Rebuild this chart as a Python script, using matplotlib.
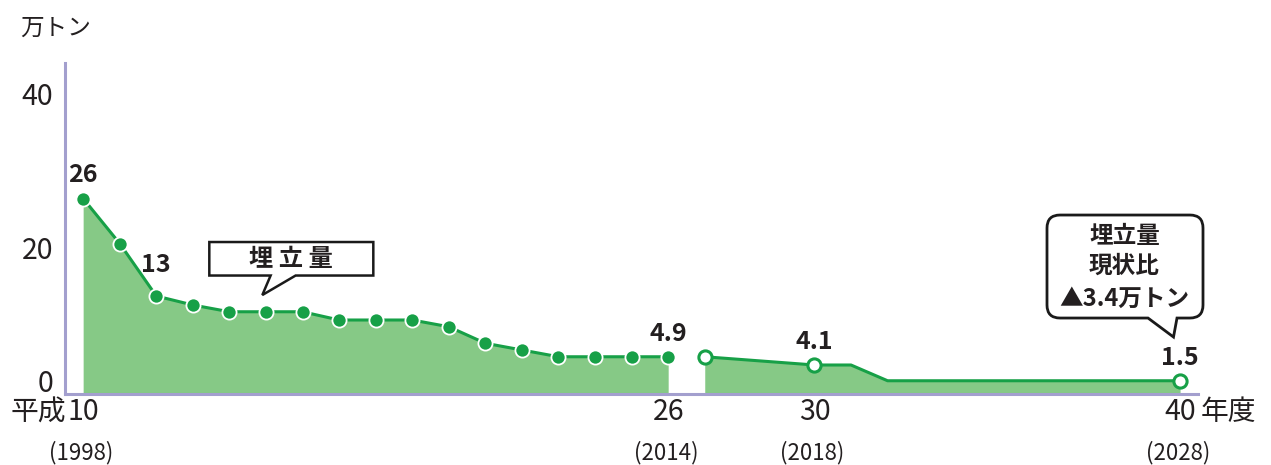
import matplotlib
matplotlib.use('Agg')
import matplotlib.pyplot as plt
from matplotlib.path import Path
from matplotlib.patches import PathPatch
from matplotlib import transforms

plt.rcParams['font.family'] = ['Noto Sans CJK JP', 'DejaVu Sans']

#%% データ（埋立量, 万トン）

years_act = [1998, 1999, 2000, 2001, 2002, 2003, 2004, 2005, 2006,
             2007, 2008, 2009, 2010, 2011, 2012, 2013, 2014]
vals_act = [26, 20, 13, 11.8, 10.9, 10.9, 10.9, 9.8, 9.8,
            9.8, 8.9, 6.7, 5.8, 4.9, 4.9, 4.9, 4.9]

years_plan = [2015, 2018, 2019, 2020, 2028]
vals_plan = [4.9, 3.8, 3.8, 1.7, 1.7]
plan_marks = [0, 1, 4]

tick_years = [1998, 2014, 2018, 2028]
tick_heisei = ['10', '26', '30', '40']
yticks = [0, 20, 40]

value_labels = {1998: '26', 2000: '13', 2014: '4.9', 2018: '4.1', 2028: '1.5'}

#%% estilos
GREEN = '#17a047'
FILL = '#86c986'
AXC = '#a39fce'
TXT = '#231f20'

fig = plt.figure(figsize=(12.71, 4.65), dpi=100)
ax = fig.add_axes([64.5/1271, 1-393.5/465, (1198-64.5)/1271, (393.5-63)/465])
ax.set_xlim(1997.49, 2028.49)
ax.set_ylim(0, 44.07)

for s in ['top', 'right']:
    ax.spines[s].set_visible(False)
for s in ['left', 'bottom']:
    ax.spines[s].set_color(AXC)
    ax.spines[s].set_linewidth(2.2)

# 実績
ax.fill_between(years_act, vals_act, 0, color=FILL, lw=0, zorder=1)
ax.plot(years_act, vals_act, '-o', color=GREEN, lw=2.2, ms=10.2,
        mfc=GREEN, mec='white', mew=1.3, zorder=3)

# 見込み
ax.fill_between(years_plan, vals_plan, 0, color=FILL, lw=0, zorder=1)
ax.plot(years_plan, vals_plan, '-o', color=GREEN, lw=2.2, ms=9.5,
        mfc='white', mec=GREEN, mew=2.2, markevery=plan_marks, zorder=3)

# etiquetas de valor
allpts = dict(zip(years_act + years_plan, vals_act + vals_plan))
for yr, txt in value_labels.items():
    off = 22 if yr == 2000 else 16.6
    ax.annotate(txt, (yr, allpts[yr]), xytext=(0, off), textcoords='offset points',
                ha='center', va='center', fontsize=18, fontweight='bold', color=TXT)

# ejes
ax.set_yticks(yticks)
ax.set_yticklabels([str(v) for v in yticks], fontsize=20.5, color=TXT)
ax.tick_params(axis='y', length=0, pad=8.0)
shift = {0: 13, 20: -3.5, 40: 0}
for lab, v in zip(ax.get_yticklabels(), yticks):
    lab.set_transform(lab.get_transform() +
                      transforms.ScaledTranslation(0, shift[v]/100, fig.dpi_scale_trans))

ax.set_xticks(tick_years)
ax.set_xticklabels(tick_heisei, fontsize=20.5, color=TXT)
ax.tick_params(axis='x', length=0, pad=13.6)
for lab in ax.get_xticklabels():
    lab.set_va('center')

ax.annotate('平成', (1998, 0), xytext=(-12.5, -13.6), textcoords='offset points',
            ha='right', va='center', fontsize=20, color=TXT)
ax.annotate('年度', (2028, 0), xytext=(15, -13.6), textcoords='offset points',
            ha='left', va='center', fontsize=20, color=TXT)
for yr in tick_years:
    ax.annotate('(%d)' % yr, (yr, 0), xytext=(-1.5, -42.5), textcoords='offset points',
                ha='center', va='center', fontsize=16, color=TXT)

fig.text(56/1271, 1-28/465, '万トン', ha='center', va='center', fontsize=17, color=TXT)

#%% globos

def bubble(l, r, b, t, bx0, bx1, rad):
    verts, codes = [], []
    def ln(p):
        verts.append(p); codes.append(Path.LINETO)
    def cv(c, p):
        verts.extend([c, p]); codes.extend([Path.CURVE3, Path.CURVE3])
    verts.append((bx1, b)); codes.append(Path.MOVETO)
    ln((r-rad, b)); cv((r, b), (r, b+rad))
    ln((r, t-rad)); cv((r, t), (r-rad, t))
    ln((l+rad, t)); cv((l, t), (l, t-rad))
    ln((l, b+rad)); cv((l, b), (l+rad, b))
    ln((bx0, b)); ln((0, 0))
    verts.append((0, 0)); codes.append(Path.CLOSEPOLY)
    return Path(verts, codes)

def callout(tip, box_px, base_px, rad_px, lw):
    k = 0.72  # px -> pt
    l, r, b, t = [v*k for v in box_px]
    p = bubble(l, r, b, t, base_px[0]*k, base_px[1]*k, rad_px*k)
    tr = transforms.Affine2D().scale(fig.dpi/72) + \
        transforms.ScaledTranslation(tip[0], tip[1], ax.transData)
    ax.add_patch(PathPatch(p, transform=tr, fc='white', ec='#1a1a1a', lw=lw,
                           clip_on=False, zorder=5, joinstyle='miter'))

tip1 = (2002.9, 13.13)
callout(tip1, (-53, 111, 19.5, 53), (8.3, 33.3), 0, 1.8)
ax.annotate('埋 立 量', tip1, xytext=(29*0.72, 36*0.72), textcoords='offset points',
            ha='center', va='center', fontsize=17.5, fontweight='bold', color=TXT, zorder=6)

tip2 = (2027.82, 7.53)
callout(tip2, (-126.5, 29.5, 19, 122), (-25.5, 3.5), 13, 2.0)
for txt, dy in [('埋立量', 101), ('現状比', 71), ('▲3.4万トン', 38)]:
    ax.annotate(txt, tip2, xytext=(-49*0.72, dy*0.72), textcoords='offset points',
                ha='center', va='center', fontsize=17, fontweight='bold', color=TXT,
                zorder=6)

plt.savefig('out.png', dpi=100)
